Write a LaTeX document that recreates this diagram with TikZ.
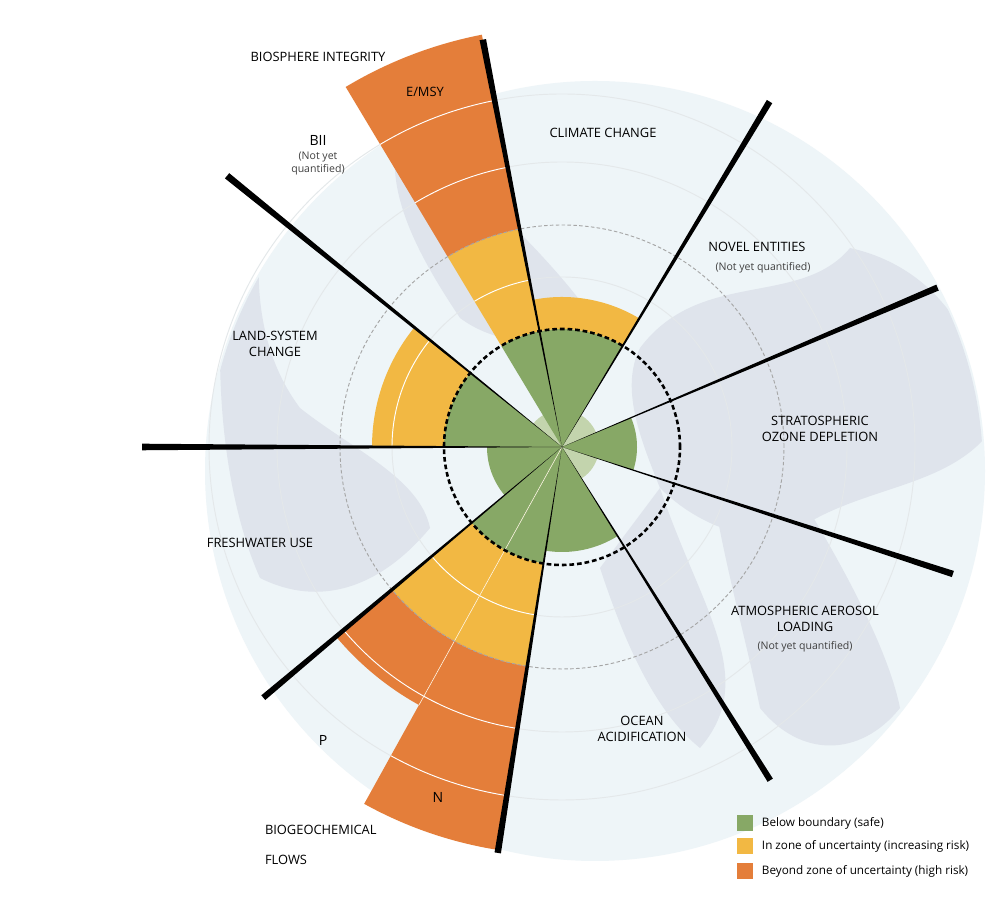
\documentclass[tikz,border=0pt]{standalone}
\usepackage{fontspec}
\setmainfont{Open Sans}
\usetikzlibrary{calc}
\definecolor{safegreen}{HTML}{87A866}
\definecolor{palegreen}{HTML}{C3D4AD}
\definecolor{riskyellow}{HTML}{F2B843}
\definecolor{highorange}{HTML}{E47E3A}
\definecolor{globeblue}{HTML}{EEF5F8}
\definecolor{landgray}{HTML}{DFE4EC}
\definecolor{ringgray}{HTML}{E4E8EA}
% band of a sector: start angle, end angle, inner radius, outer radius, colour
\newcommand{\band}[5]{\fill[#5] ($(ctr)+(#1:#4)$) arc[start angle=#1,end angle=#2,radius=#4] -- ($(ctr)+(#2:#3)$) arc[start angle=#2,end angle=#1,radius=#3] -- cycle;}
\begin{document}
\begin{tikzpicture}[x=0.03cm,y=0.03cm,
    every node/.style={inner sep=0pt, outer sep=0pt},
    lbl/.style={font=\fontsize{11}{13}\selectfont, align=center},
    sub/.style={font=\fontsize{9}{11}\selectfont, align=center, text=black!75},
    key/.style={font=\fontsize{10}{12}\selectfont, anchor=west}]
    \useasboundingbox (0,0) rectangle (1000,908);
    \fill[white] (0,0) rectangle (1000,908);
    \coordinate (ctr) at (562,461);
    \coordinate (globe) at (595,437);
    % globe and rough continents
    \fill[globeblue] (globe) circle (390);
    \begin{scope}
    \clip (globe) circle (388);
    \fill[landgray] (640,560) .. controls (700,640) and (800,600) .. (850,660) .. controls (940,640) and (990,560) .. (985,470) .. controls (940,420) and (860,420) .. (800,380) .. controls (760,360) and (700,380) .. (660,420) .. controls (640,470) and (620,520) .. (640,560) -- cycle;
    \fill[landgray] (660,420) .. controls (700,300) and (760,230) .. (700,160) .. controls (650,200) and (620,280) .. (600,340) -- cycle;
    \fill[landgray] (300,820) .. controls (250,700) and (240,580) .. (300,500) .. controls (350,460) and (420,430) .. (430,380) .. controls (380,320) and (320,300) .. (260,330) .. controls (220,420) and (210,560) .. (230,680) .. controls (250,760) and (280,800) .. (300,820) -- cycle;
    \fill[landgray] (400,780) .. controls (480,720) and (560,640) .. (600,580) .. controls (560,560) and (500,560) .. (460,590) .. controls (420,650) and (380,720) .. (400,780) -- cycle;
    \fill[landgray] (700,560) .. controls (760,480) and (880,300) .. (900,200) .. controls (860,150) and (800,150) .. (760,200) .. controls (740,300) and (700,420) .. (700,560) -- cycle;
    \end{scope}
    % thin rings
    \foreach \r in {170,285,353} \draw[ringgray, line width=0.8pt] (ctr) circle (\r);
    % sectors
    \fill[palegreen] (ctr) circle (37);
    \band{59}{101}{0}{118}{safegreen}
    \band{59}{101}{118}{150}{riskyellow}
    \band{-18}{23}{0}{75}{safegreen}
    \band{261}{302}{0}{105}{safegreen}
    \band{241}{261}{0}{118}{safegreen}
    \band{241}{261}{118}{222}{riskyellow}
    \band{241}{261}{222}{408}{highorange}
    \band{220}{241}{0}{118}{safegreen}
    \band{220}{241}{118}{222}{riskyellow}
    \band{220}{241}{222}{295}{highorange}
    \band{180}{220}{0}{75}{safegreen}
    \band{141}{180}{0}{118}{safegreen}
    \band{141}{180}{118}{190}{riskyellow}
    \band{101}{121}{0}{118}{safegreen}
    \band{101}{121}{118}{222}{riskyellow}
    \band{101}{121}{222}{420}{highorange}
    % white arcs across the bands
    \foreach \a/\b/\r in {241/261/170,241/261/285,241/261/353,220/241/170,220/241/285,141/180/170,101/121/170,101/121/285,101/121/353}
        \draw[white, line width=0.8pt] ($(ctr)+(\a:\r)$) arc[start angle=\a,end angle=\b,radius=\r];
    \draw[white!85!riskyellow, line width=0.5pt] (ctr) -- ($(ctr)+(241:295)$);
    % boundary rings
    \draw[gray!70, densely dashed, line width=0.8pt] (ctr) circle (222);
    \draw[black, dashed, line width=2.2pt, dash pattern=on 4pt off 2.5pt] (ctr) circle (118);
    % tapered boundary lines
    \foreach \a/\r in {101/415,59/403,23/408,-18/411,-58/393,-99/411,220/390,180/420,141/431}
        \fill[black] (ctr) -- ($(ctr)+(\a-0.45:\r)$) -- ($(ctr)+(\a+0.45:\r)$) -- cycle;
    % labels
    \node[lbl] (bio) at (318,851) {BIOSPHERE INTEGRITY};
    \node[lbl] (emsy) at (425,816) {E/MSY};
    \node[lbl, font=\fontsize{12}{14}\selectfont] (bii) at (318,768) {BII};
    \node[sub, anchor=north] (biinote) at (318,756) {(Not yet\\quantified)};
    \node[lbl] (climate) at (603,775) {CLIMATE CHANGE};
    \node[lbl] (novel) at (757,661) {NOVEL ENTITIES};
    \node[sub] (novelnote) at (763,640) {(Not yet quantified)};
    \node[lbl] (ozone) at (820,479) {STRATOSPHERIC\\OZONE DEPLETION};
    \node[lbl] (aerosol) at (805,289) {ATMOSPHERIC AEROSOL\\LOADING};
    \node[sub] (aerosolnote) at (805,261) {(Not yet quantified)};
    \node[lbl] (ocean) at (642,179) {OCEAN\\ACIDIFICATION};
    \node[lbl, font=\fontsize{12}{14}\selectfont] (phos) at (323,168) {P};
    \node[lbl, font=\fontsize{12}{14}\selectfont] (nitro) at (438,111) {N};
    \node[lbl, align=left, anchor=west] (bgc) at (265,78) {BIOGEOCHEMICAL};
    \node[lbl, anchor=west] (flows) at (265,48) {FLOWS};
    \node[lbl] (fresh) at (260,365) {FRESHWATER USE};
    \node[lbl] (land) at (275,564) {LAND-SYSTEM\\CHANGE};
    % legend
    \node[fill=safegreen, minimum size=13] (keysafe) at (745,85) {};
    \node[fill=riskyellow, minimum size=13] (keyrisk) at (745,62) {};
    \node[fill=highorange, minimum size=13] (keyhigh) at (745,37) {};
    \node[key] at ([xshift=8]keysafe.east) {Below boundary (safe)};
    \node[key] at ([xshift=8]keyrisk.east) {In zone of uncertainty (increasing risk)};
    \node[key] at ([xshift=8]keyhigh.east) {Beyond zone of uncertainty (high risk)};
\end{tikzpicture}
\end{document}
